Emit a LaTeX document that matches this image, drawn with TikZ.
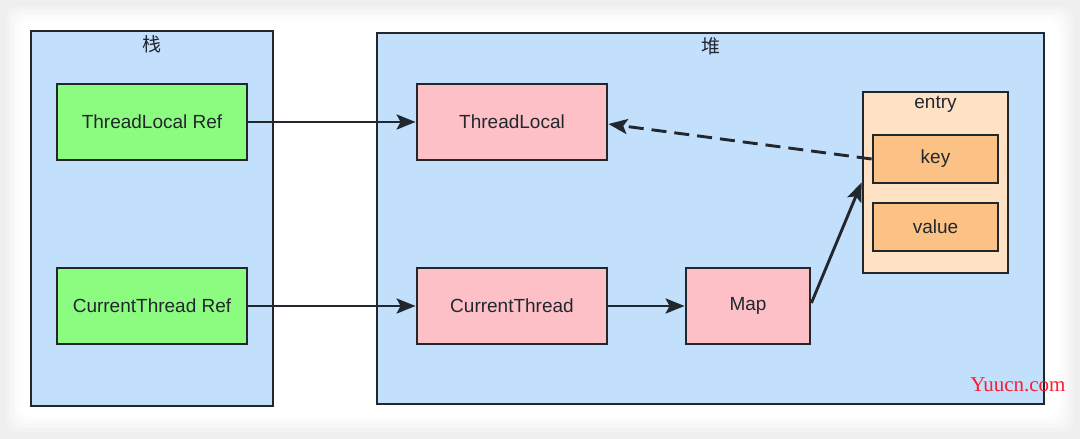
\documentclass[tikz,border=0pt]{standalone}
\usepackage{fontspec}
\setmainfont{Liberation Sans}
\newfontfamily\cjk{Noto Sans CJK SC}
\newfontfamily\wmfont{Liberation Serif}
\usetikzlibrary{arrows.meta,calc}
\definecolor{strokec}{HTML}{22272E}
\definecolor{bluef}{HTML}{C2DFFC}
\definecolor{greenf}{HTML}{8CFC80}
\definecolor{pinkf}{HTML}{FCC0C6}
\definecolor{entryf}{HTML}{FFE2C4}
\definecolor{keyf}{HTML}{FCC184}
\definecolor{bgc}{HTML}{EFEFEF}
\definecolor{wmred}{HTML}{FF1A2E}
\tikzset{
  box/.style={draw=strokec, line width=2.8pt, rectangle, inner sep=0pt, text=strokec, font=\fontsize{19}{21}\selectfont},
  area/.style={box, fill=bluef},
  refbox/.style={box, fill=greenf, minimum width=190pt, minimum height=76pt},
  objbox/.style={box, fill=pinkf, minimum height=76pt},
  kvbox/.style={box, fill=keyf, minimum width=125pt, minimum height=48pt},
  lbl/.style={inner sep=0pt, text=strokec, font=\fontsize{19}{21}\selectfont},
  conn/.style={draw=strokec, line width=2.9pt, -{Stealth[length=19pt,width=15pt,inset=4pt]}},
}
\begin{document}
\begin{tikzpicture}[x=1pt,y=-1pt]
\useasboundingbox (0,0) rectangle (1080,439);
% background and card
\fill[bgc] (0,0) rectangle (1080,439);
\foreach \s/\o in {16/0.25,12/0.35,8/0.45,5/0.6,2/0.8}{
  \fill[white, opacity=\o, rounded corners=12pt] (22-\s,22-\s) rectangle (1057+\s,416+\s);
}
\fill[white, rounded corners=6pt] (22,22) rectangle (1057,416);
% areas
\node[area, minimum width=242pt, minimum height=375pt] (stack) at (152,218.5) {};
\node[lbl] (stacklbl) at (152,44) {\cjk 栈};
\node[area, minimum width=667pt, minimum height=371pt] (heap) at (710.5,218.5) {};
\node[lbl] (heaplbl) at (710.5,46) {\cjk 堆};
% stack refs
\node[refbox] (tlref) at (152,122) {ThreadLocal Ref};
\node[refbox] (ctref) at (152,306) {CurrentThread Ref};
% heap objects
\node[objbox, minimum width=190pt] (tl) at (512,122) {ThreadLocal};
\node[objbox, minimum width=190pt] (ct) at (512,306) {CurrentThread};
\node[objbox, minimum width=124pt] (map) at (748,306) {Map};
% entry
\node[box, fill=entryf, minimum width=145pt, minimum height=181pt] (entry) at (935.5,182.5) {};
\node[lbl] (entrylbl) at (935.5,104) {entry};
\node[kvbox] (key) at (935.5,159) {key};
\node[kvbox] (value) at (935.5,227) {value};
% connectors
\draw[conn] (tlref.east) -- (tl.west);
\draw[conn] (ctref.east) -- (ct.west);
\draw[conn] (ct.east) -- (map.west);
\draw[conn] ($(map.east)+(0,-3)$) -- (entry.west);
\draw[conn, dash pattern=on 15pt off 8pt] (key.west) -- ($(tl.east)+(0,2)$);
% watermark
\node[inner sep=0pt, text=wmred, font=\wmfont\fontsize{21}{23}\selectfont] (wm) at (1018,385) {Yuucn.com};
\end{tikzpicture}
\end{document}
